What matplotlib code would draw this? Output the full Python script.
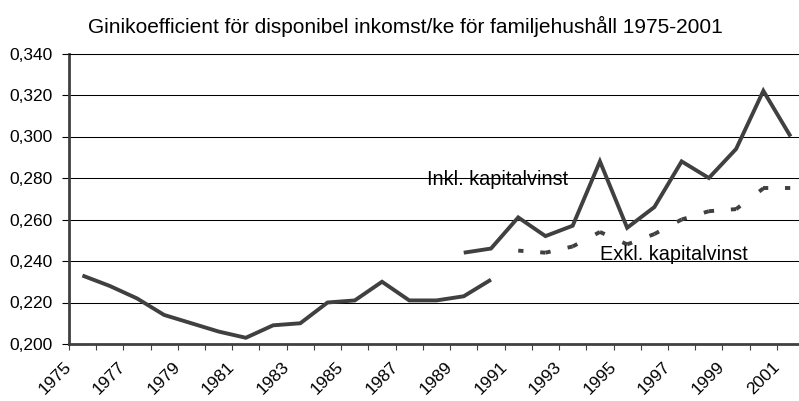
#!/usr/bin/env python3
"""
Gini coefficient for disposable income per consumption unit, 1975-2001
Usage: ./plot.py  -> writes out.png
"""

import matplotlib
matplotlib.use('Agg')  # Non-interactive backend
import matplotlib.pyplot as plt
import numpy as np

years = list(range(1975, 2002))

# Old series (1975-1990)
gini_old = [0.233, 0.228, 0.222, 0.214, 0.210, 0.206, 0.203, 0.209,
            0.210, 0.220, 0.221, 0.230, 0.221, 0.221, 0.223, 0.231]
# New series incl. capital gains (1989-2001)
inkl_years = list(range(1989, 2002))
gini_inkl = [0.244, 0.246, 0.261, 0.252, 0.257, 0.288, 0.256,
             0.266, 0.288, 0.280, 0.294, 0.322, 0.300]
# New series excl. capital gains (1991-2001)
exkl_years = list(range(1991, 2002))
gini_exkl = [0.245, 0.244, 0.247, 0.254, 0.248, 0.253,
             0.260, 0.264, 0.265, 0.275, 0.275]

yticks = [0.200, 0.220, 0.240, 0.260, 0.280, 0.300, 0.320, 0.340]

title = 'Ginikoefficient för disponibel inkomst/ke för familjehushåll 1975-2001'
label_inkl = 'Inkl. kapitalvinst'
label_exkl = 'Exkl. kapitalvinst'

LINE_COLOR = '#404040'
FONT = ['Liberation Sans', 'DejaVu Sans']


def idx(yrs):
    """Category positions for a list of years"""
    return [y - years[0] for y in yrs]


def dashed_by_segment(ax, fig, x, y, lw, dash_px):
    """Draw each segment with half a dash at both ends, so dashes sit on the points"""
    px_to_pt = 72.0 / fig.dpi
    for i in range(len(x) - 1):
        p0, p1 = ax.transData.transform([(x[i], y[i]), (x[i + 1], y[i + 1])])
        seg = np.hypot(*(p1 - p0)) * px_to_pt
        half = dash_px / 2 * px_to_pt
        gap = max(seg - 2 * half, 0.1)
        ax.plot(x[i:i + 2], y[i:i + 2], color=LINE_COLOR, lw=lw,
                ls=(0, (half / lw, gap / lw, half / lw, 1000)),
                dash_capstyle='butt')


def plot_gini(output_file='out.png'):
    plt.rcParams['font.family'] = FONT
    fig = plt.figure(figsize=(7.99, 4.01), dpi=100)
    W, H = 799.0, 401.0
    left, right = 68.8, 804.2
    top, bottom = 53.5, 344.0
    ax = fig.add_axes([left / W, 1 - bottom / H, (right - left) / W, (bottom - top) / H])

    ax.set_xlim(-0.5, len(years) - 0.5)
    ax.set_ylim(0.200, 0.340)

    # grid
    ax.set_yticks(yticks)
    ax.set_yticklabels([f'{v:.3f}'.replace('.', ',') for v in yticks], fontsize=12.5)
    ax.yaxis.grid(True, color='black', lw=0.75)
    ax.set_axisbelow(True)

    bounds = np.arange(len(years) + 1) - 0.5
    xlabels = [str(years[k]) if k < len(years) and k % 2 == 0 else '' for k in range(len(bounds))]
    ax.set_xticks(bounds)
    ax.set_xticklabels(xlabels, rotation=45, ha='right', va='center',
                       rotation_mode='anchor', fontsize=12.5)

    ax.tick_params(axis='x', length=4.5, width=0.8, color=LINE_COLOR, pad=10)
    ax.tick_params(axis='y', length=5, width=0.8, color='black', pad=6.5)

    for side in ['left', 'bottom']:
        ax.spines[side].set_color(LINE_COLOR)
        ax.spines[side].set_linewidth(2.0)
    ax.spines['top'].set_color('black')
    ax.spines['top'].set_linewidth(0.75)
    ax.spines['right'].set_visible(False)

    # series
    ax.plot(idx(years[:len(gini_old)]), gini_old, color=LINE_COLOR, lw=2.8,
            solid_joinstyle='miter', solid_capstyle='butt')
    ax.plot(idx(inkl_years), gini_inkl, color=LINE_COLOR, lw=2.8,
            solid_joinstyle='miter', solid_capstyle='butt')
    dashed_by_segment(ax, fig, idx(exkl_years), gini_exkl, lw=2.8, dash_px=10.5)

    # labels
    ax.text(12.65, 0.2766, label_inkl, fontsize=14.3, ha='left', va='baseline')
    ax.text(19.0, 0.2405, label_exkl, fontsize=14.3, ha='left', va='baseline')

    fig.text(405 / W, 1 - 33 / H, title, fontsize=15, ha='center', va='baseline')

    fig.savefig(output_file, dpi=100)
    print(f"Plot saved to: {output_file}")


if __name__ == '__main__':
    plot_gini('out.png')
